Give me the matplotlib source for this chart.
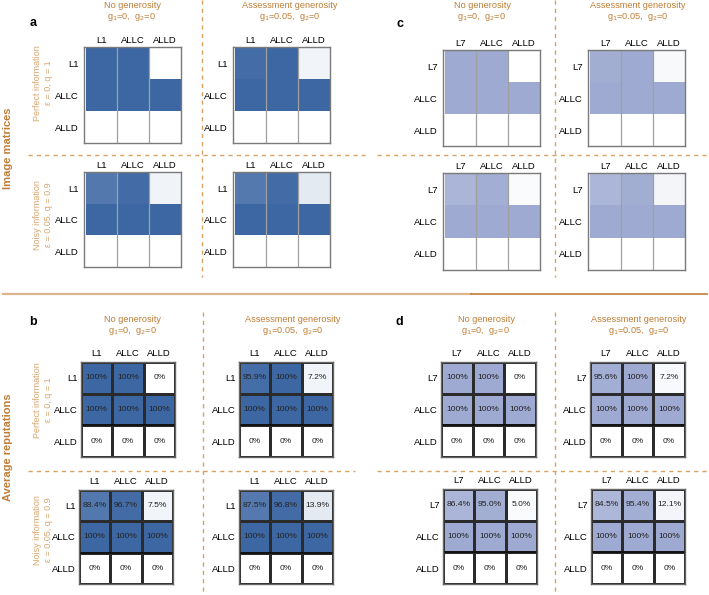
import numpy as np
import matplotlib
matplotlib.use('Agg')
import matplotlib.pyplot as plt
from matplotlib.colors import LinearSegmentedColormap

plt.rcParams['font.family'] = ['Liberation Sans', 'DejaVu Sans']

W, H = 709, 595

labels_L1 = ['L1', 'ALLC', 'ALLD']
labels_L7 = ['L7', 'ALLC', 'ALLD']

# average reputations (%), rows = group being judged by, cols = strategy
rep_L1_perfect_nogen = [[100, 100, 0], [100, 100, 100], [0, 0, 0]]
rep_L1_perfect_gen = [[95.9, 100, 7.2], [100, 100, 100], [0, 0, 0]]
rep_L1_noisy_nogen = [[88.4, 96.7, 7.5], [100, 100, 100], [0, 0, 0]]
rep_L1_noisy_gen = [[87.5, 96.8, 13.9], [100, 100, 100], [0, 0, 0]]
rep_L7_perfect_nogen = [[100, 100, 0], [100, 100, 100], [0, 0, 0]]
rep_L7_perfect_gen = [[95.6, 100, 7.2], [100, 100, 100], [0, 0, 0]]
rep_L7_noisy_nogen = [[86.4, 95.0, 5.0], [100, 100, 100], [0, 0, 0]]
rep_L7_noisy_gen = [[84.5, 95.4, 12.1], [100, 100, 100], [0, 0, 0]]

col_titles = ['No generosity', 'Assessment generosity']
col_params = [r'g$_1$=0,  g$_2$=0', r'g$_1$=0.05,  g$_2$=0']
row_titles = ['Perfect information\n\u03b5 = 0, q = 1', 'Noisy information\n\u03b5 = 0.05, q = 0.9']

blue = '#3d67a3'
lavender = '#9eaad1'
orange = '#c07d36'
orange_light = '#d9a56e'
dash_col = '#dba064'

fig = plt.figure(figsize=(W / 100, H / 100), dpi=100)

bg = fig.add_axes([0, 0, 1, 1], zorder=-1)
bg.set_xlim(0, W)
bg.set_ylim(H, 0)
bg.axis('off')


def px_axes(x0, y0, x1, y1):
    return fig.add_axes([x0 / W, 1 - y1 / H, (x1 - x0) / W, (y1 - y0) / H])


def fmt(v):
    if v == 0 or v == 100:
        return '%d%%' % v
    return '%.1f%%' % v


def image_matrix(box, vals, color, labels):
    ax = px_axes(*box)
    cmap = LinearSegmentedColormap.from_list('m', ['white', color])
    ax.imshow(np.array(vals) / 100.0, cmap=cmap, vmin=0, vmax=1, extent=(0, 3, 3, 0),
              aspect='auto', interpolation='nearest')
    ax.set_xlim(-0.06, 3.03)
    ax.set_ylim(3.0, -0.03)
    for x in (1, 2):
        ax.axvline(x, color='#a0a0a0', lw=0.9)
    for s in ax.spines.values():
        s.set_color('#7a7a7a')
        s.set_linewidth(1.0)
    ax.xaxis.tick_top()
    ax.set_xticks([0.5, 1.5, 2.5], labels)
    ax.set_yticks([0.5, 1.5, 2.5], labels)
    ax.tick_params(length=0, labelsize=6.8, pad=1.5)
    ax.tick_params(axis='y', pad=4)
    return ax


def rep_heatmap(box, vals, color, labels):
    ax = px_axes(*box)
    v = np.array(vals, dtype=float)
    cmap = LinearSegmentedColormap.from_list('h', ['white', color])
    ax.pcolormesh(v / 100.0, cmap=cmap, vmin=0, vmax=1, edgecolors='#2b2b2b', linewidth=0.8)
    ax.axhline(2, color='#111111', lw=1.3)
    ax.set_xlim(0, 3)
    ax.set_ylim(3, 0)
    for i in range(3):
        for j in range(3):
            ax.text(j + 0.5, i + 0.5, fmt(v[i, j]), ha='center', va='center', fontsize=6.1, color='#222222')
    for s in ax.spines.values():
        s.set_color('#666666')
        s.set_linewidth(1.0)
    ax.xaxis.tick_top()
    ax.set_xticks([0.5, 1.5, 2.5], labels)
    ax.set_yticks([0.5, 1.5, 2.5], labels)
    ax.tick_params(length=0, labelsize=6.8, pad=3)
    ax.tick_params(axis='y', pad=2.5)
    return ax


# ---- panel a / c : image matrices
image_matrix((84, 47, 181, 143), rep_L1_perfect_nogen, blue, labels_L1)
image_matrix((233, 47, 330, 143), rep_L1_perfect_gen, blue, labels_L1)
image_matrix((84, 172, 181, 267), rep_L1_noisy_nogen, blue, labels_L1)
image_matrix((233, 172, 330, 267), rep_L1_noisy_gen, blue, labels_L1)
image_matrix((443, 50, 540, 146), rep_L7_perfect_nogen, lavender, labels_L7)
image_matrix((588, 50, 685, 146), rep_L7_perfect_gen, lavender, labels_L7)
image_matrix((443, 173, 540, 270), rep_L7_noisy_nogen, lavender, labels_L7)
image_matrix((588, 173, 685, 270), rep_L7_noisy_gen, lavender, labels_L7)

# ---- panel b / d : average reputations
rep_heatmap((81, 362, 175, 457), rep_L1_perfect_nogen, blue, labels_L1)
rep_heatmap((239, 362, 333, 457), rep_L1_perfect_gen, blue, labels_L1)
rep_heatmap((79, 490, 173, 584), rep_L1_noisy_nogen, blue, labels_L1)
rep_heatmap((239, 490, 333, 584), rep_L1_noisy_gen, blue, labels_L1)
rep_heatmap((441, 362, 536, 457), rep_L7_perfect_nogen, lavender, labels_L7)
rep_heatmap((590, 362, 685, 457), rep_L7_perfect_gen, lavender, labels_L7)
rep_heatmap((443, 489, 537, 584), rep_L7_noisy_nogen, lavender, labels_L7)
rep_heatmap((591, 489, 685, 584), rep_L7_noisy_gen, lavender, labels_L7)

# ---- headers
for (xc, y1, y2) in [((132, 290), 6, 17), ((482, 638), 6, 17), ((133, 293), 319, 331), ((486, 639), 319, 331)]:
    for k in range(2):
        bg.text(xc[k], y1, col_titles[k], ha='center', va='center', fontsize=6.6, color=orange)
        bg.text(xc[k], y2, col_params[k], ha='center', va='center', fontsize=6.6, color=orange)

for lab, x, y in [('a', 33, 23), ('c', 400, 24), ('b', 33, 322), ('d', 399, 322)]:
    bg.text(x, y, lab, ha='center', va='center', fontsize=9, fontweight='bold')

for y, txt in [(83, row_titles[0]), (215, row_titles[1]), (400, row_titles[0]), (530, row_titles[1])]:
    bg.text(43, y, txt, ha='center', va='center', rotation=90, fontsize=6.5,
            color=orange_light, linespacing=1.4)

bg.text(8, 148, 'Image matrices', ha='center', va='center', rotation=90, fontsize=8,
        fontweight='bold', color=orange)
bg.text(8, 447, 'Average reputations', ha='center', va='center', rotation=90, fontsize=8,
        fontweight='bold', color=orange)

# ---- separators
dk = dict(color=dash_col, lw=1.0, dashes=(3, 3))
bg.plot([202, 202], [0, 277], **dk)
bg.plot([555, 555], [0, 277], **dk)
bg.plot([28, 365], [155, 155], **dk)
bg.plot([377, 709], [155, 155], **dk)
bg.plot([203, 203], [312, 595], **dk)
bg.plot([555, 555], [312, 595], **dk)
bg.plot([28, 355], [471, 471], **dk)
bg.plot([377, 709], [471, 471], **dk)
bg.plot([3, 471], [294, 294], color='#dcb48e', lw=1.6)
bg.plot([471, 707], [294, 294], color='#c07d36', lw=1.2)

fig.savefig('out.png', dpi=100)
